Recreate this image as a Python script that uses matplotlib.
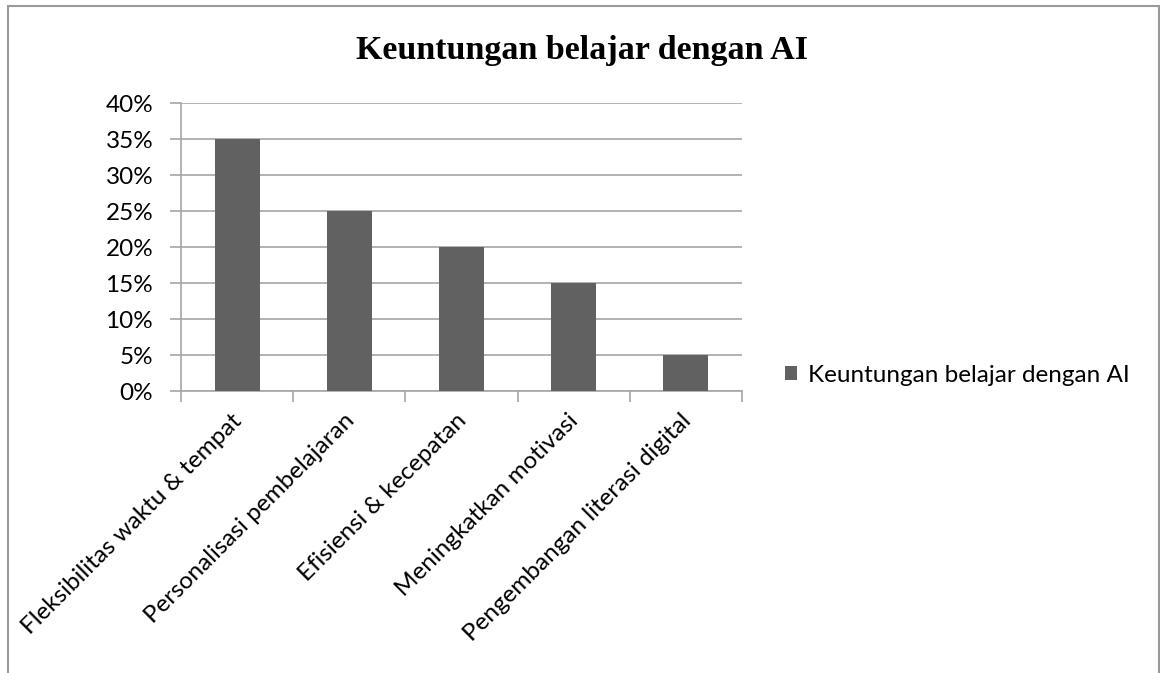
import matplotlib
matplotlib.use('Agg')
import matplotlib.pyplot as plt
from matplotlib.patches import Rectangle
from matplotlib.ticker import FuncFormatter

categories = ['Fleksibilitas waktu & tempat', 'Personalisasi pembelajaran',
              'Efisiensi & kecepatan', 'Meningkatkan motivasi',
              'Pengembangan literasi digital']
values = [0.35, 0.25, 0.20, 0.15, 0.05]
series_name = 'Keuntungan belajar dengan AI'
title = 'Keuntungan belajar dengan AI'

W, H = 1160, 673
fig = plt.figure(figsize=(W / 100, H / 100), dpi=100)

# chart frame (bottom edge cut off in the reference)
fig.patches.append(Rectangle((8 / W, -0.1), (1159 - 8) / W, 1.1 - 6 / H,
                             transform=fig.transFigure, fill=False,
                             edgecolor='#9a9a9a', linewidth=1.5))

ax = fig.add_axes([181 / W, 1 - 391 / H, (742 - 181) / W, (391 - 103) / H])

grid_c = '#a6a6a6'
fs = 17.5
x = range(len(categories))
bars = ax.bar(x, values, width=0.4, color='#616161', label=series_name, zorder=3)

ax.set_xlim(-0.5, len(categories) - 0.5)
ax.set_ylim(0, 0.40)
ax.set_yticks([i * 0.05 for i in range(9)])
ax.yaxis.set_major_formatter(FuncFormatter(lambda v, p: f'{v * 100:.0f}%'))
ax.grid(axis='y', color=grid_c, linewidth=1.2, zorder=0)

for s in ['top', 'right']:
    ax.spines[s].set_visible(False)
ax.spines['left'].set_color(grid_c)
ax.spines['bottom'].set_color(grid_c)
ax.spines['left'].set_linewidth(1.2)
ax.spines['bottom'].set_linewidth(1.2)

# category ticks sit on the boundaries between bars
ax.set_xticks([i - 0.5 for i in range(len(categories) + 1)])
ax.set_xticklabels([])
ax.tick_params(axis='x', length=8, width=1.2, color=grid_c, direction='out')
ax.tick_params(axis='y', length=8, width=1.2, color=grid_c, direction='out',
               labelsize=fs, pad=12)
for t in ax.get_yticklabels():
    t.set_fontfamily('Lato')

for i, c in enumerate(categories):
    ax.annotate(c, xy=(i, 0), xycoords='data', xytext=(-6, -19),
                textcoords='offset pixels', rotation=45, ha='right', va='top',
                rotation_mode='anchor', fontsize=fs, family='Lato')

fig.text(582 / W, 1 - 50 / H, title, ha='center', va='center',
         fontsize=24.5, fontweight='bold', family='Liberation Serif')

fig.legend(handles=[bars], loc='center left', bbox_to_anchor=(785 / W, 1 - 375 / H),
           frameon=False, handlelength=0.5, handleheight=0.5,
           handletextpad=0.45, borderaxespad=0, borderpad=0,
           prop={'family': 'Lato', 'size': fs})

fig.savefig('out.png', dpi=100)
